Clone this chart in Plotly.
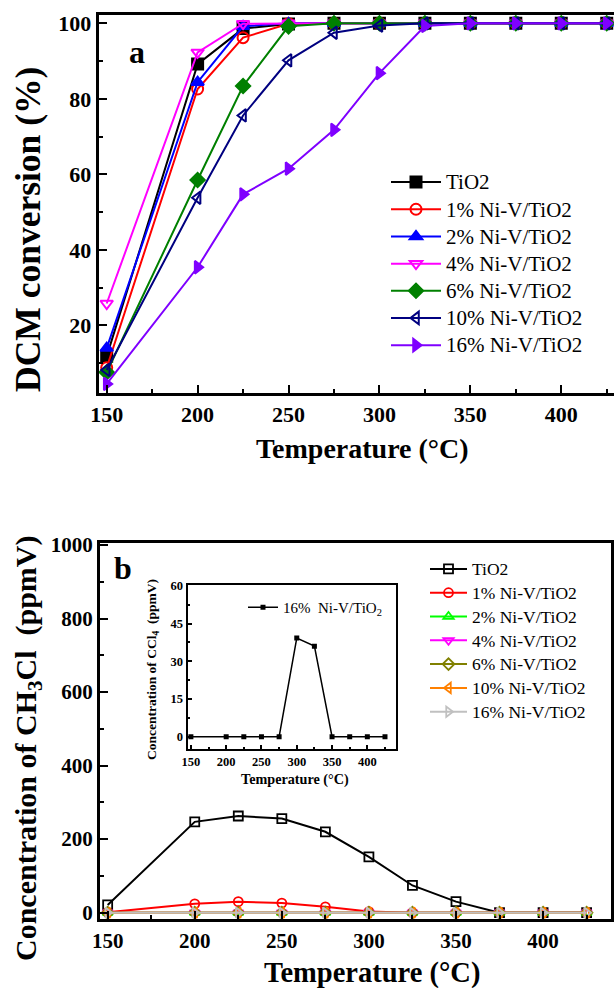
import plotly.graph_objects as go

# Reaction temperatures (°C)
temps = [150, 200, 225, 250, 275, 300, 325, 350, 375, 400, 425]

catalysts = ["TiO2", "1% Ni-V/TiO2", "2% Ni-V/TiO2", "4% Ni-V/TiO2",
             "6% Ni-V/TiO2", "10% Ni-V/TiO2", "16% Ni-V/TiO2"]

# (a) DCM conversion (%)
dcm_tio2 = [11.8, 89.2, 98.6, 99.8, 100, 100, 100, 100, 100, 100, 100]
dcm_1 = [8.8, 82.6, 96.2, 99.9, 100, 100, 100, 100, 100, 100, 100]
dcm_2 = [14.0, 84.4, 99.2, 100, 100, 100, 100, 100, 100, 100, 100]
dcm_4 = [25.8, 92.3, 99.9, 100, 100, 100, 100, 100, 100, 100, 100]
dcm_6 = [7.6, 58.5, 83.4, 99.2, 100, 100, 100, 100, 100, 100, 100]
dcm_10 = [8.2, 53.8, 75.6, 90.2, 97.5, 99.4, 100, 100, 100, 100, 100]
dcm_16 = [4.5, 35.4, 54.7, 61.5, 71.8, 86.8, 99.3, 100, 100, 100, 100]

# (b) CH3Cl concentration (ppmV)
ch3cl_tio2 = [21, 247, 263, 256, 220, 152, 74, 30, 0, 0, 0]
ch3cl_1 = [1, 24, 30, 26, 16, 3, 0, 0, 0, 0, 0]
ch3cl_2 = [0, 0, 0, 0, 0, 0, 0, 0, 0, 0, 0]
ch3cl_4 = [0, 0, 0, 0, 0, 0, 0, 0, 0, 0, 0]
ch3cl_6 = [0, 0, 0, 0, 0, 0, 0, 0, 0, 0, 0]
ch3cl_10 = [0, 0, 0, 0, 0, 0, 0, 0, 0, 0, 0]
ch3cl_16 = [0, 0, 0, 0, 0, 0, 0, 0, 0, 0, 0]

# Inset: CCl4 concentration (ppmV) over 16% Ni-V/TiO2
ccl4_16 = [0, 0, 0, 0, 0, 39.2, 36.0, 0, 0, 0, 0]

W, H = 614, 988
SERIF = "Liberation Serif, Times New Roman, DejaVu Serif, serif"


def px_x(p):
    return p / W


def px_y(p):
    return 1 - p / H


def legend_label(text, size):
    # larger glyphs than the legend row height implies, for tighter rows
    return f'<span style="font-size:{size}px">{text}</span>'


fig = go.Figure()

# ---- panel (a) ----
a_series = [dcm_tio2, dcm_1, dcm_2, dcm_4, dcm_6, dcm_10, dcm_16]
a_colors = ["#000000", "#FF0000", "#0000FF", "#FF00FF", "#008000", "#000080", "#7F00FF"]
a_symbols = ["square", "circle-open", "triangle-up", "triangle-down-open",
             "diamond", "triangle-left-open", "triangle-right"]
for i, (name, vals) in enumerate(zip(catalysts, a_series)):
    fig.add_trace(go.Scatter(
        x=temps, y=vals, name=legend_label(name, 21),
        mode="lines+markers", xaxis="x", yaxis="y", legend="legend",
        legendgroup=f"a{i}",
        line=dict(color=a_colors[i], width=2),
        marker=dict(symbol=a_symbols[i], size=11, color=a_colors[i],
                    line=dict(color=a_colors[i], width=2)),
    ))

# ---- panel (b) ----
b_series = [ch3cl_tio2, ch3cl_1, ch3cl_2, ch3cl_4, ch3cl_6, ch3cl_10, ch3cl_16]
b_colors = ["#000000", "#FF0000", "#00FF00", "#FF00FF", "#808000", "#FF8000", "#C0C0C0"]
b_symbols = ["square-open", "circle-open", "triangle-up-open", "triangle-down-open",
             "diamond-open", "triangle-left-open", "triangle-right-open"]
for i, (name, vals) in enumerate(zip(catalysts, b_series)):
    fig.add_trace(go.Scatter(
        x=temps, y=vals, name=legend_label(name, 17.5),
        mode="lines+markers", xaxis="x2", yaxis="y2", legend="legend2",
        legendgroup=f"b{i}",
        line=dict(color=b_colors[i], width=2),
        marker=dict(symbol=b_symbols[i], size=9, color=b_colors[i],
                    line=dict(color=b_colors[i], width=1.8)),
    ))

# ---- inset of (b) ----
fig.add_trace(go.Scatter(
    x=temps, y=ccl4_16, name="16%  Ni-V/TiO<sub>2</sub>",
    mode="lines+markers", xaxis="x3", yaxis="y3", legend="legend3",
    line=dict(color="#000000", width=1.5),
    marker=dict(symbol="square", size=5, color="#000000"),
))

tick_font_a = dict(family=SERIF, size=22, color="black", weight="bold")
tick_font_b = dict(family=SERIF, size=21, color="black", weight="bold")
tick_font_i = dict(family=SERIF, size=12.5, color="black", weight="bold")

common_axis = dict(showgrid=False, zeroline=False, showline=True, linecolor="black",
                   ticks="inside", tickcolor="black", automargin=False)

fig.update_layout(
    width=W, height=H,
    margin=dict(l=0, r=0, t=0, b=0, autoexpand=False),
    paper_bgcolor="white", plot_bgcolor="white",
    font=dict(family=SERIF, color="black"),
    # panel (a)
    xaxis=dict(**common_axis, domain=[px_x(98.7), 1.0], range=[145.6, 429],
               anchor="y", mirror=True, linewidth=3, tick0=150, dtick=50,
               ticklen=8, tickwidth=2, tickfont=tick_font_a,
               minor=dict(dtick=25, ticks="inside", ticklen=4, tickwidth=2, tickcolor="black")),
    yaxis=dict(**common_axis, domain=[px_y(393), px_y(15)], range=[2.1, 102.2],
               anchor="x", linewidth=3, tick0=0, dtick=20, ticklen=8, tickwidth=2,
               tickfont=tick_font_a,
               minor=dict(dtick=10, ticks="inside", ticklen=4, tickwidth=2, tickcolor="black")),
    # panel (b)
    xaxis2=dict(**common_axis, domain=[px_x(100), px_x(611)], range=[145.6, 439],
                anchor="y2", mirror=True, linewidth=3, tick0=150, dtick=50,
                ticklen=8, tickwidth=2, tickfont=tick_font_b,
                minor=dict(dtick=25, ticks="inside", ticklen=4, tickwidth=2, tickcolor="black")),
    yaxis2=dict(**common_axis, domain=[px_y(919.3), px_y(543.3)], range=[-18, 1004.6],
                anchor="x2", mirror=True, linewidth=3, tick0=0, dtick=200,
                ticklen=8, tickwidth=2, tickfont=tick_font_b,
                minor=dict(dtick=100, ticks="inside", ticklen=4, tickwidth=2, tickcolor="black")),
    # inset
    xaxis3=dict(**common_axis, domain=[px_x(187.5), px_x(396)], range=[145.2, 440.6],
                anchor="y3", mirror=True, linewidth=2, tick0=150, dtick=50,
                ticklen=4, tickwidth=1.5, tickfont=tick_font_i,
                minor=dict(dtick=25, ticks="inside", ticklen=2, tickwidth=1.5, tickcolor="black")),
    yaxis3=dict(**common_axis, domain=[px_y(749.3), px_y(585)], range=[-5, 60.3],
                anchor="x3", mirror=True, linewidth=2, tick0=0, dtick=15,
                ticklen=4, tickwidth=1.5, tickfont=tick_font_i,
                minor=dict(dtick=7.5, ticks="inside", ticklen=2, tickwidth=1.5, tickcolor="black")),
    legend=dict(x=px_x(386), y=px_y(163.5), xanchor="left", yanchor="top",
                bgcolor="rgba(0,0,0,0)", itemwidth=50, tracegroupgap=0,
                font=dict(family=SERIF, size=18.6, color="black")),
    legend2=dict(x=px_x(425), y=px_y(552), xanchor="left", yanchor="top",
                 bgcolor="rgba(0,0,0,0)", itemwidth=37, tracegroupgap=0,
                 font=dict(family=SERIF, size=16, color="black")),
    legend3=dict(x=px_x(243), y=px_y(591), xanchor="left", yanchor="top",
                 bgcolor="rgba(0,0,0,0)", itemwidth=30,
                 font=dict(family=SERIF, size=15, color="black")),
    showlegend=True,
)


def title_font(s):
    return dict(family=SERIF, size=s, color="black", weight="bold")


annotations = [
    # panel (a)
    dict(text="a", x=px_x(137), y=px_y(52), font=title_font(32)),
    dict(text="Temperature (°C)", x=px_x(362), y=px_y(448), font=title_font(28)),
    dict(text="DCM conversion (%)", x=px_x(28), y=px_y(230), textangle=-90, font=title_font(35.5)),
    # panel (b)
    dict(text="b", x=px_x(123), y=px_y(568), font=title_font(32)),
    dict(text="Temperature (°C)", x=px_x(372), y=px_y(973), font=title_font(28.5)),
    dict(text="Concentration of CH<sub>3</sub>Cl  (ppmV)", x=px_x(28), y=px_y(748),
         textangle=-90, font=title_font(30)),
    # inset
    dict(text="Temperature (°C)", x=px_x(294.5), y=px_y(779.5), font=title_font(14.2)),
    dict(text="Concentration of CCl<sub>4</sub>  (ppmV)", x=px_x(152), y=px_y(670),
         textangle=-90, font=title_font(13.5)),
]
for ann in annotations:
    ann.update(xref="paper", yref="paper", showarrow=False, xanchor="center", yanchor="middle")
fig.update_layout(annotations=annotations)

fig.write_html("out.html")
